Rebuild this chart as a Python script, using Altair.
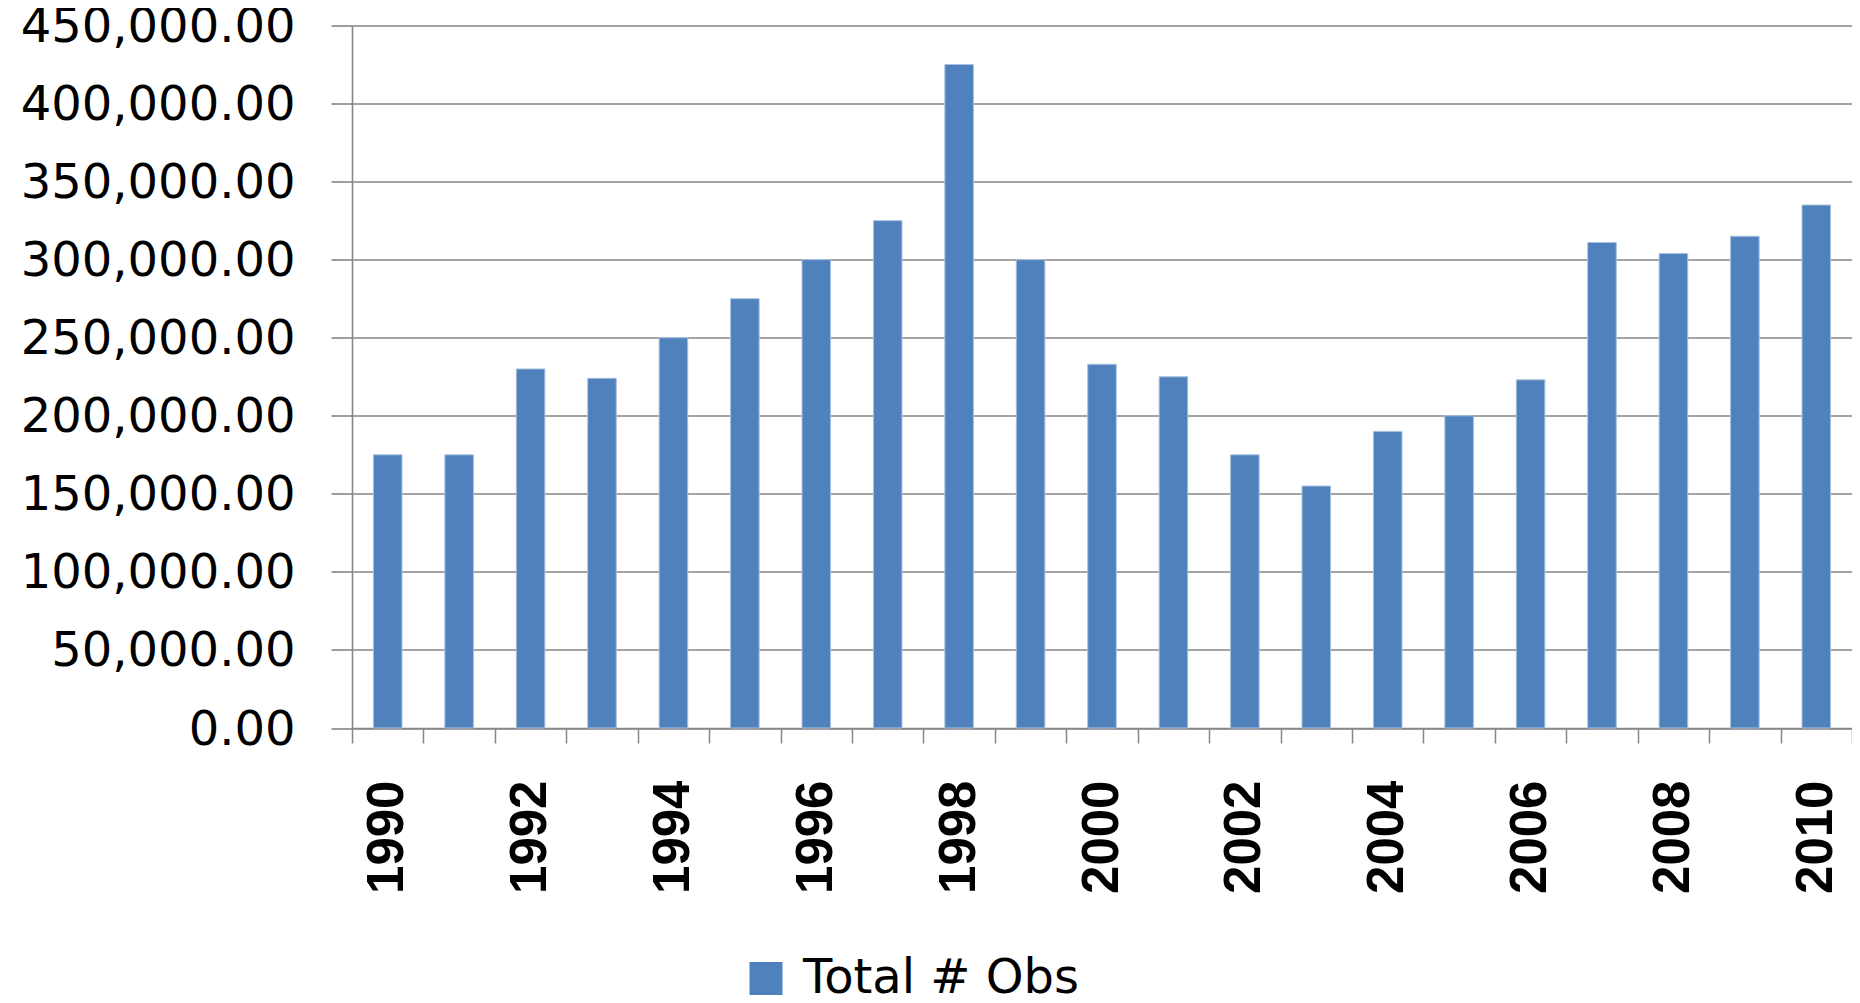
import altair as alt
import pandas as pd

years = [str(y) for y in range(1990, 2011)]
values = [175000, 175000, 230000, 224000, 250000, 275000, 300000, 325000, 425000,
          300000, 233000, 225000, 175000, 155000, 190000, 200000, 223000, 311000,
          304000, 315000, 335000]
series = ["Total # Obs"] * len(years)
y_ticks = [0, 50000, 100000, 150000, 200000, 250000, 300000, 350000, 400000, 450000]

df = pd.DataFrame({"year": years, "obs": values, "series": series})

grid = "#868686"

chart = alt.Chart(df).mark_bar(
    width=alt.RelativeBandSize(0.4), stroke="#a9c1df", strokeWidth=1
).encode(
    x=alt.X(
        "year:N", sort=years, title=None,
        scale=alt.Scale(paddingInner=0, paddingOuter=0),
        axis=alt.Axis(
            labelAngle=270, labelAlign="right", labelBaseline="middle",
            labelFont="Liberation Sans", labelFontWeight="bold",
            labelFontSize=51, labelColor="black", labelPadding=37,
            tickSize=15, tickBand="extent", tickColor=grid, tickWidth=1.5,
            domainColor=grid, domainWidth=1.5, grid=False, labelOverlap=False,
            labelLimit=0,
            labelExpr="toNumber(datum.value) % 2 == 0 ? datum.label : ''",
        ),
    ),
    y=alt.Y(
        "obs:Q", title=None,
        scale=alt.Scale(domain=[0, 450000], nice=False),
        axis=alt.Axis(
            values=y_ticks, format=",.2f", labelFont="DejaVu Sans",
            labelFontSize=48, labelColor="black", labelPadding=36,
            labelOffset=2,
            tickSize=21, tickColor=grid, tickWidth=1.6, domainColor=grid,
            domainWidth=1.6, gridColor=grid, gridWidth=1.6, labelOverlap=False,
            labelLimit=0,
        ),
    ),
    color=alt.Color(
        "series:N", scale=alt.Scale(range=["#4F81BD"]),
        legend=alt.Legend(
            title=None, orient="none", legendX=390, legendY=929,
            symbolType="square", symbolSize=1089, symbolStrokeWidth=0,
            labelFont="DejaVu Sans", labelFontSize=48, labelColor="black",
            labelOffset=13, padding=0, labelLimit=0,
        ),
    ),
).properties(
    width=1500, height=702.5,
    padding={"left": 344, "top": 17.5, "right": 0, "bottom": 267},
    autosize=alt.AutoSizeParams(type="none"),
).configure_view(stroke=None)

chart.save("out.html", embed_options={"renderer": "svg", "actions": False})
